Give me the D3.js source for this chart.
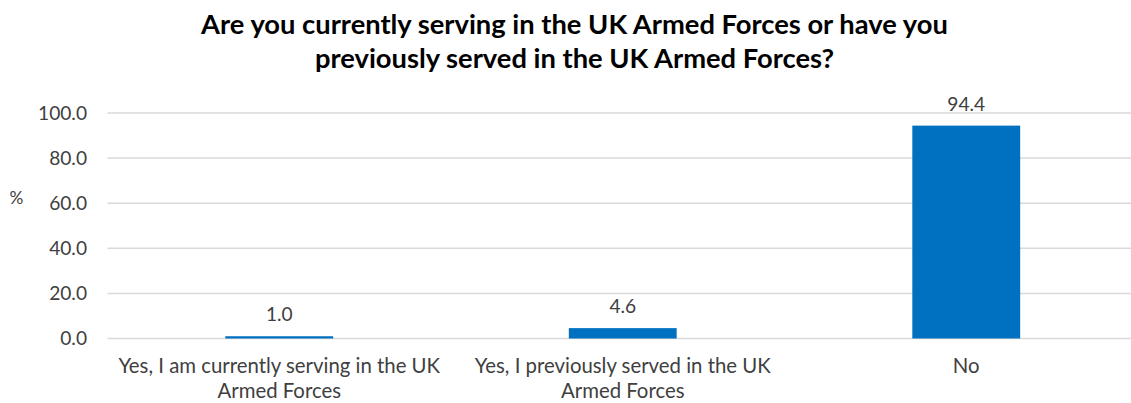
<!DOCTYPE html>
<html>
<head>
<meta charset="utf-8">
<script src="https://cdn.jsdelivr.net/npm/d3@7"></script>
<style>
  html, body { margin: 0; padding: 0; background: #fff; }
  svg { display: block; }
  text { font-family: Lato, "Open Sans", sans-serif; }
</style>
</head>
<body>
<svg id="chart" width="1131" height="403"></svg>
<script>
const titleLines = [
  "Are you currently serving in the UK Armed Forces or have you",
  "previously served in the UK Armed Forces?"
];
const categories = [
  "Yes, I am currently serving in the UK Armed Forces",
  "Yes, I previously served in the UK Armed Forces",
  "No"
];
const values = [1.0, 4.6, 94.4];
const yTicks = [0, 20, 40, 60, 80, 100];
const yAxisTitle = "%";

const W = 1131, H = 403;
const svg = d3.select("#chart");

const x = d3.scaleBand()
  .domain(categories)
  .range([107.5, 1138])
  .paddingInner(0.686)
  .paddingOuter(0.343);

const y = d3.scaleLinear().domain([0, 100]).range([338.5, 113]);

// helper: font size that makes a string a given width
function fitSize(str, targetW, weight) {
  const t = svg.append("text").attr("font-size", 100).attr("font-weight", weight || "normal").text(str);
  const w = t.node().getComputedTextLength();
  t.remove();
  return 100 * targetW / w;
}

const titleSize = fitSize(titleLines[0], 747, "bold");
const tickSize = fitSize("100.0", 49);
const catSize = fitSize("Yes, I am currently serving in the UK", 322);
const textColor = "#404040";

// gridlines
svg.append("g")
  .selectAll("line")
  .data(yTicks)
  .join("line")
  .attr("x1", 107.5).attr("x2", 1138)
  .attr("y1", d => y(d)).attr("y2", d => y(d))
  .attr("stroke", "#d9d9d9")
  .attr("stroke-width", 1.5);

// y axis labels
const yAxis = d3.axisLeft(y).tickValues(yTicks).tickFormat(d3.format(".1f")).tickSize(0).tickPadding(0);
const yg = svg.append("g").attr("transform", "translate(87,0)").call(yAxis);
yg.select(".domain").remove();
yg.selectAll("text")
  .attr("font-size", tickSize)
  .attr("fill", textColor)
  .style("font-family", "Lato, 'Open Sans', sans-serif");

svg.append("text")
  .attr("x", 16.5).attr("y", 200)
  .attr("text-anchor", "middle")
  .attr("dominant-baseline", "middle")
  .attr("font-size", tickSize * 0.9)
  .attr("fill", textColor)
  .text(yAxisTitle);

// bars
svg.append("g")
  .selectAll("rect")
  .data(values)
  .join("rect")
  .attr("x", (d, i) => x(categories[i]))
  .attr("width", x.bandwidth())
  .attr("y", d => y(d))
  .attr("height", d => y(0) - y(d))
  .attr("fill", "#0070C0");

// value labels
svg.append("g")
  .selectAll("text")
  .data(values)
  .join("text")
  .attr("x", (d, i) => x(categories[i]) + x.bandwidth() / 2)
  .attr("y", d => y(d) - 15)
  .attr("text-anchor", "middle")
  .attr("font-size", tickSize)
  .attr("fill", textColor)
  .text(d => d3.format(".1f")(d));

// category labels (wrapped)
function wrapLines(str, maxW, size) {
  const words = str.split(" ");
  const lines = [];
  let cur = "";
  const t = svg.append("text").attr("font-size", size);
  for (const w of words) {
    const test = cur ? cur + " " + w : w;
    t.text(test);
    if (t.node().getComputedTextLength() > maxW && cur) {
      lines.push(cur);
      cur = w;
    } else {
      cur = test;
    }
  }
  if (cur) lines.push(cur);
  t.remove();
  return lines;
}

const catG = svg.append("g");
categories.forEach(c => {
  const lines = wrapLines(c, 335, catSize);
  const t = catG.append("text")
    .attr("x", x(c) + x.bandwidth() / 2)
    .attr("y", 373)
    .attr("text-anchor", "middle")
    .attr("font-size", catSize)
    .attr("fill", textColor);
  lines.forEach((ln, i) => {
    t.append("tspan")
      .attr("x", x(c) + x.bandwidth() / 2)
      .attr("y", 373 + i * 25)
      .text(ln);
  });
});

// title
const tg = svg.append("g");
titleLines.forEach((ln, i) => {
  tg.append("text")
    .attr("x", 574.5)
    .attr("y", 34 + i * 34)
    .attr("text-anchor", "middle")
    .attr("font-size", titleSize)
    .attr("font-weight", "bold")
    .attr("fill", "#000")
    .text(ln);
});
</script>
</body>
</html>
